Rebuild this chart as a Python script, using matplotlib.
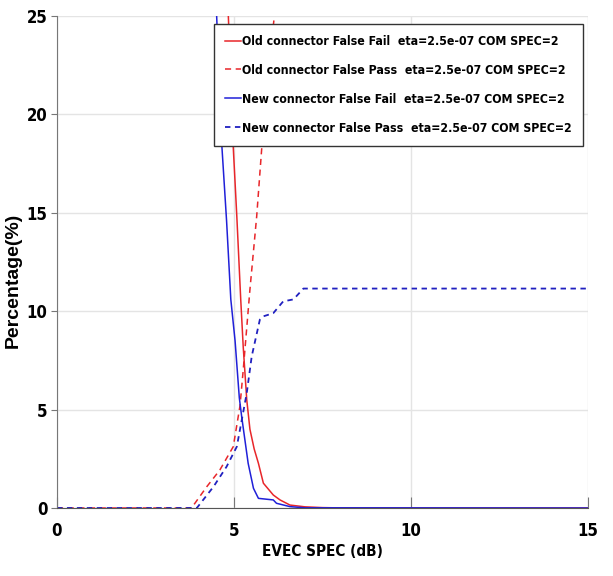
import numpy as np
import matplotlib
matplotlib.use("Agg")
import matplotlib.pyplot as plt
from matplotlib import font_manager

# EVEC SPEC sweep (dB) and percentages for each connector / decision type
x_old_ff = [0, 3.5, 4.0, 4.5, 4.84, 4.98, 5.08, 5.19, 5.26, 5.36, 5.45, 5.57, 5.69, 5.83, 6.11, 6.3, 6.58, 7.0, 7.5, 8.0, 8.5, 15]
y_old_ff = [100, 85, 60, 38, 25.0, 18.3, 14.8, 10.6, 8.2, 5.5, 4.0, 3.0, 2.27, 1.26, 0.66, 0.41, 0.15, 0.06, 0.02, 0.005, 0, 0]

x_old_fp = [0, 3.3, 3.80, 4.23, 4.6, 4.98, 5.17, 5.26, 5.45, 5.64, 5.78, 6.11, 6.2, 6.5, 7.0, 8.0, 15]
y_old_fp = [0, 0, 0, 1.08, 1.93, 3.12, 5.2, 7.0, 11.1, 14.8, 18.2, 24.5, 26, 31, 38, 45, 50]

x_new_ff = [0, 3.5, 4.0, 4.3, 4.51, 4.65, 4.79, 4.91, 5.03, 5.15, 5.22, 5.40, 5.55, 5.69, 6.11, 6.2, 6.58, 7.0, 15]
y_new_ff = [100, 70, 45, 33, 25.0, 18.6, 14.6, 10.6, 8.5, 5.6, 4.6, 2.27, 1.0, 0.49, 0.41, 0.24, 0.07, 0.01, 0]

x_new_fp = [0, 3.95, 4.42, 4.79, 5.08, 5.36, 5.5, 5.73, 5.83, 6.11, 6.39, 6.68, 6.96, 15]
y_new_fp = [0, 0, 1.08, 2.1, 3.12, 5.84, 7.7, 9.57, 9.74, 9.9, 10.5, 10.6, 11.15, 11.15]

labels = ["Old connector False Fail  eta=2.5e-07 COM SPEC=2",
          "Old connector False Pass  eta=2.5e-07 COM SPEC=2",
          "New connector False Fail  eta=2.5e-07 COM SPEC=2",
          "New connector False Pass  eta=2.5e-07 COM SPEC=2"]

# pick a narrow bold face if one is around, else plain Liberation Sans bold
def pick_font():
    files = [f.fname for f in font_manager.fontManager.ttflist]
    for key in ['LiberationSansNarrow-Bold', 'DejaVuSansCondensed-Bold', 'RobotoCondensed-Bold',
                'NotoSans-CondensedBold', 'OpenSans-CondensedBold']:
        for f in files:
            if key.lower() in f.lower().replace('_', '').replace(' ', ''):
                return font_manager.FontProperties(fname=f), True
    return font_manager.FontProperties(family='Liberation Sans', weight='bold'), False

fp, is_narrow = pick_font()
leg_size = 8.8 if is_narrow else 8.3

fig = plt.figure(figsize=(6.13, 5.76), dpi=100)
ax = fig.add_axes([57/613, 1-508/576, 531/613, 492/576])

ax.plot(x_old_ff, y_old_ff, color='#e8262a', lw=1.1, label=labels[0])
ax.plot(x_old_fp, y_old_fp, color='#e8262a', lw=1.1, ls=(0, (4, 3)), label=labels[1])
ax.plot(x_new_ff, y_new_ff, color='#2020d8', lw=1.1, label=labels[2])
ax.plot(x_new_fp, y_new_fp, color='#2020c0', lw=1.3, ls=(0, (3, 2.5)), label=labels[3])

ax.set_xlim(0, 15)
ax.set_ylim(0, 25)
ax.set_xticks([0, 5, 10, 15])
ax.set_yticks([0, 5, 10, 15, 20, 25])
ax.grid(True, color='#e4e4e4', lw=1)
ax.set_axisbelow(True)

for s in ['top', 'right']:
    ax.spines[s].set_visible(False)
ax.spines['left'].set_color('#777777')
ax.spines['bottom'].set_color('#555555')
ax.tick_params(axis='y', direction='out', length=4, color='#777777', pad=3)
ax.tick_params(axis='x', direction='in', length=8, color='#777777', pad=10)
for t in ax.get_xticklabels() + ax.get_yticklabels():
    t.set_fontproperties(fp)
    t.set_fontsize(12)

ax.set_xlabel("EVEC SPEC (dB)", fontproperties=fp, fontsize=11, labelpad=3)
ax.set_ylabel("Percentage(%)", fontsize=14, fontweight='bold', family='Liberation Sans')
ax.yaxis.set_label_coords(-0.066, 0.463)

legfp = fp.copy()
legfp.set_size(leg_size)
leg = ax.legend(loc='upper right', bbox_to_anchor=(0.99, 0.984), borderaxespad=0,
                fancybox=False, framealpha=1, edgecolor='#333333', prop=legfp,
                handlelength=1.3, handletextpad=0.1,
                labelspacing=1.3, borderpad=0.9)
leg.get_frame().set_linewidth(1.0)

fig.savefig("out.png", dpi=100)
